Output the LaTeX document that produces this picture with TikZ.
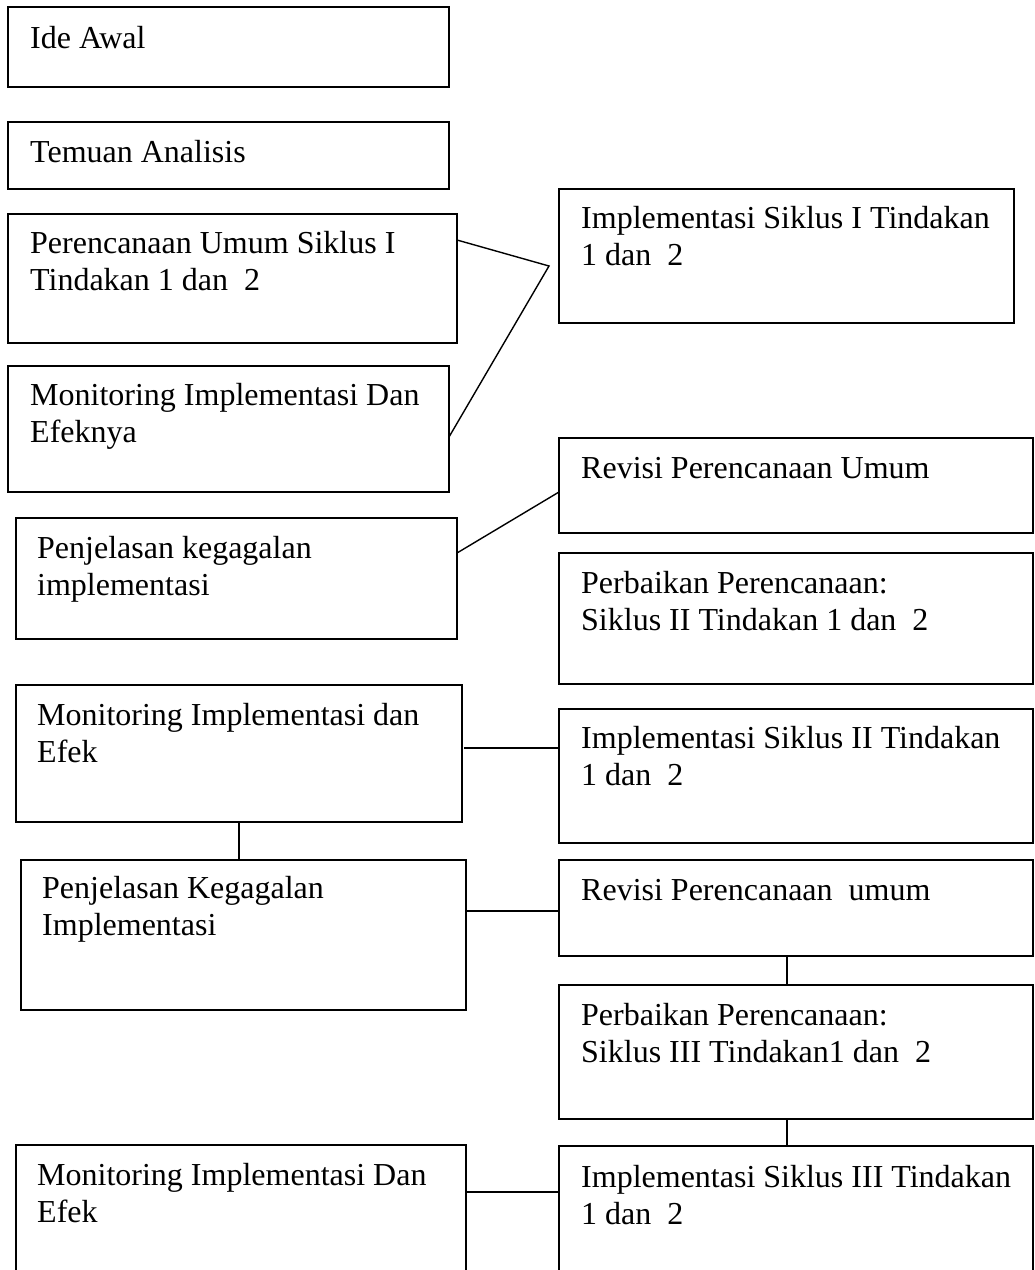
\documentclass[tikz,border=0pt]{standalone}
\usepackage{fontspec}
\setmainfont{Liberation Serif}
\usetikzlibrary{calc}
\newcommand\boxtxt[1]{\begin{tabular}[t]{@{}l@{}}#1\end{tabular}}
\begin{document}
\begin{tikzpicture}[x=1pt,y=-1pt,
  boxst/.style={draw, line width=1.6pt, rectangle, anchor=north west, inner sep=0pt, outer sep=0pt},
  txt/.style={anchor=base west, inner sep=0pt, font=\fontsize{32}{37.5}\selectfont},
  conn/.style={line width=1.4pt}]
\useasboundingbox (0,0) rectangle (1035,1270);
\clip (0,0) rectangle (1035,1270);
% left column
\node[boxst, minimum width=441pt, minimum height=80pt] (b1) at (8,7) {};
\node[boxst, minimum width=441pt, minimum height=67pt] (b2) at (8,122) {};
\node[boxst, minimum width=449pt, minimum height=129pt] (b3) at (8,214) {};
\node[boxst, minimum width=441pt, minimum height=126pt] (b4) at (8,366) {};
\node[boxst, minimum width=441pt, minimum height=121pt] (b5) at (16,518) {};
\node[boxst, minimum width=446pt, minimum height=137pt] (b6) at (16,685) {};
\node[boxst, minimum width=445pt, minimum height=150pt] (b7) at (21,860) {};
\node[boxst, minimum width=450pt, minimum height=145pt] (b8) at (16,1145) {};
% right column
\node[boxst, minimum width=455pt, minimum height=134pt] (r1) at (559,189) {};
\node[boxst, minimum width=474pt, minimum height=95pt] (r2) at (559,438) {};
\node[boxst, minimum width=474pt, minimum height=131pt] (r3) at (559,553) {};
\node[boxst, minimum width=474pt, minimum height=134pt] (r4) at (559,709) {};
\node[boxst, minimum width=474pt, minimum height=96pt] (r5) at (559,860) {};
\node[boxst, minimum width=474pt, minimum height=134pt] (r6) at (559,985) {};
\node[boxst, minimum width=474pt, minimum height=144pt] (r7) at (559,1146) {};
% texts
\node[txt] (t1) at ($(b1.north west)+(22,41)$) {\boxtxt{Ide Awal}};
\node[txt] (t2) at ($(b2.north west)+(22,40)$) {\boxtxt{Temuan Analisis}};
\node[txt] (t3) at ($(b3.north west)+(22,39)$) {\boxtxt{Perencanaan Umum Siklus I\\Tindakan 1 dan\ \ 2}};
\node[txt] (t4) at ($(b4.north west)+(22,39)$) {\boxtxt{Monitoring Implementasi Dan\\Efeknya}};
\node[txt] (t5) at ($(b5.north west)+(21,40)$) {\boxtxt{Penjelasan kegagalan\\implementasi}};
\node[txt] (t6) at ($(b6.north west)+(21,40)$) {\boxtxt{Monitoring Implementasi dan\\Efek}};
\node[txt] (t7) at ($(b7.north west)+(21,38)$) {\boxtxt{Penjelasan Kegagalan\\Implementasi}};
\node[txt] (t8) at ($(b8.north west)+(21,40)$) {\boxtxt{Monitoring Implementasi Dan\\Efek}};
\node[txt] (s1) at ($(r1.north west)+(22,39)$) {\boxtxt{Implementasi Siklus I Tindakan\\1 dan\ \ 2}};
\node[txt] (s2) at ($(r2.north west)+(22,40)$) {\boxtxt{Revisi Perencanaan Umum}};
\node[txt] (s3) at ($(r3.north west)+(22,40)$) {\boxtxt{Perbaikan Perencanaan:\\Siklus II Tindakan 1 dan\ \ 2}};
\node[txt] (s4) at ($(r4.north west)+(22,39)$) {\boxtxt{Implementasi Siklus II Tindakan\\1 dan\ \ 2}};
\node[txt] (s5) at ($(r5.north west)+(22,40)$) {\boxtxt{Revisi Perencanaan\ \ umum}};
\node[txt] (s6) at ($(r6.north west)+(22,40)$) {\boxtxt{Perbaikan Perencanaan:\\Siklus III Tindakan1 dan\ \ 2}};
\node[txt] (s7) at ($(r7.north west)+(22,41)$) {\boxtxt{Implementasi Siklus III Tindakan\\1 dan\ \ 2}};
% connectors
\coordinate (apex) at (549,266);
\draw[conn] ($(b3.north east)+(0,26)$) -- (apex) -- ($(b4.north east)+(0,71)$);
\draw[conn] ($(b5.north east)+(0,35)$) -- ($(r2.north west)+(0,54)$);
\draw[conn] ($(b6.north east)+(2,63)$) coordinate (c1) -- (c1 -| r4.west);
\draw[conn] (b6.south) -- (b6.south |- b7.north);
\draw[conn] ($(b7.north east)+(0,51)$) coordinate (c2) -- (c2 -| r5.west);
\draw[conn] ($(r5.south)+(-9,0)$) coordinate (c3) -- (c3 |- r6.north);
\draw[conn] ($(r6.south)+(-9,0)$) coordinate (c4) -- (c4 |- r7.north);
\draw[conn] ($(b8.north east)+(0,47)$) coordinate (c5) -- (c5 -| r7.west);
\end{tikzpicture}
\end{document}
